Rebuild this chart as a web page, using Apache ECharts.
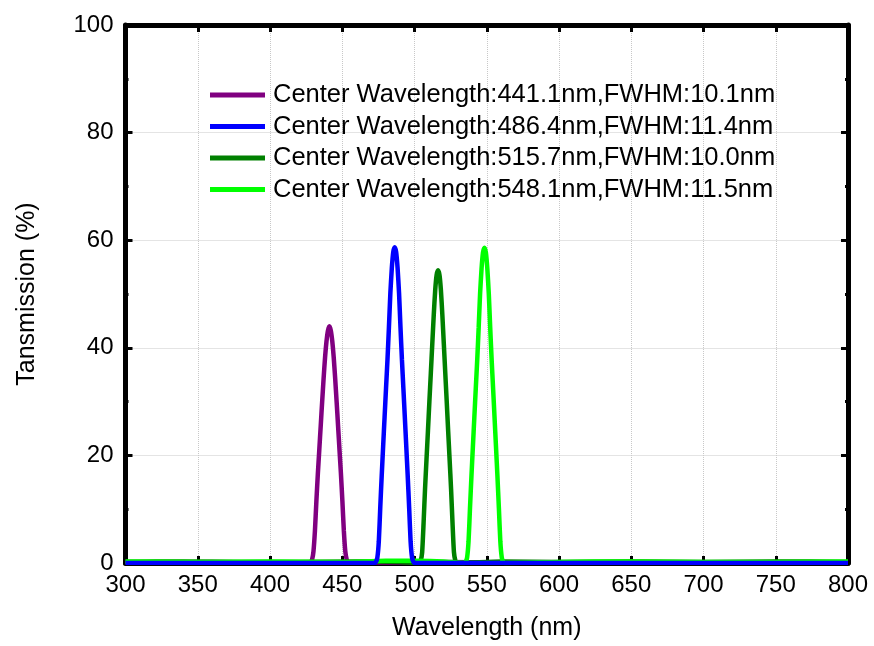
<!DOCTYPE html>
<html>
<head>
<meta charset="utf-8">
<script src="https://cdn.jsdelivr.net/npm/echarts@6/dist/echarts.min.js"></script>
<style>html,body{margin:0;padding:0;background:#fff}#c{width:874px;height:646px}</style>
</head>
<body>
<div id="c"></div>
<script>
// Tick labels / axis ranges
var xTicks = [300, 350, 400, 450, 500, 550, 600, 650, 700, 750, 800];
var yTicks = [0, 20, 40, 60, 80, 100];

var seriesNames = [
  'Center Wavelength:441.1nm,FWHM:10.1nm',
  'Center Wavelength:486.4nm,FWHM:11.4nm',
  'Center Wavelength:515.7nm,FWHM:10.0nm',
  'Center Wavelength:548.1nm,FWHM:11.5nm'
];
var seriesColors = ['#800080', '#0000ff', '#008000', '#00ff00'];

// Purple (441.1 nm)
var purpleWl = [300,330,360,390,420,
  428.1,429.1,430.1,431.1,432.1,433.1,434.1,435.1,436.1,437.1,438.1,439.1,440.1,441.1,
  442.1,443.1,444.1,445.1,446.1,447.1,448.1,449.1,450.1,451.1,452.1,453.1,454.1,
  480,520,560,600,650,700,750,800];
var purpleT = [0.2,0.1,0.2,0.1,0.1,
  0.1,0.6,2.2,6.0,11.5,16.5,21.0,25.5,30.0,34.3,38.2,41.2,43.2,44.0,
  43.2,41.2,38.2,34.3,30.0,25.5,21.0,16.5,11.5,6.0,2.2,0.6,0.1,
  0.1,0.2,0.1,0.1,0.2,0.1,0.1,0.1];

// Blue (486.4 nm)
var blueWl = [300,350,400,450,
  472.3,473.3,474.3,475.3,476.3,477.3,478.3,479.3,480.3,481.3,482.3,483.3,484.3,485.3,486.3,
  487.3,488.3,489.3,490.3,491.3,492.3,493.3,494.3,495.3,496.3,497.3,498.3,499.3,500.3,
  520,600,700,800];
var blueT = [0,0,0,0,
  0.0,0.2,1.0,4.0,10.3,16.2,21.7,27.1,32.5,37.8,43.8,50.2,54.8,57.8,58.7,
  57.8,54.8,50.2,43.8,37.8,32.5,27.1,21.7,16.2,10.3,4.0,1.0,0.2,0.0,
  0,0,0,0];

// Dark green (515.7 nm)
var dgreenWl = [300,340,380,420,460,490,
  503.3,504.3,505.3,506.3,507.3,508.3,509.3,510.3,511.3,512.3,513.3,514.3,515.3,516.3,
  517.3,518.3,519.3,520.3,521.3,522.3,523.3,524.3,525.3,526.3,527.3,528.3,529.3,
  560,600,650,700,750,800];
var dgreenT = [0.2,0.3,0.2,0.2,0.3,0.2,
  0.0,0.4,2.0,7.5,13.8,19.2,24.5,30.0,35.3,40.7,46.0,50.6,53.5,54.4,
  53.5,50.6,46.0,40.7,35.3,30.0,24.5,19.2,13.8,7.5,2.0,0.4,0.0,
  0.3,0.2,0.3,0.2,0.3,0.2];

// Light green (548.1 nm)
var lgreenWl = [300,350,400,450,480,500,520,
  534.4,535.4,536.4,537.4,538.4,539.4,540.4,541.4,542.4,543.4,544.4,545.4,546.4,547.4,548.4,
  549.4,550.4,551.4,552.4,553.4,554.4,555.4,556.4,557.4,558.4,559.4,560.4,561.4,562.4,
  600,650,700,750,800];
var lgreenT = [0.3,0.2,0.3,0.2,0.4,0.4,0.3,
  0.0,0.2,1.0,4.0,10.2,16.1,21.6,27.0,32.4,37.7,43.7,50.1,54.7,57.7,58.6,
  57.7,54.7,50.1,43.7,37.7,32.4,27.0,21.6,16.1,10.2,4.0,1.0,0.2,0.0,
  0.2,0.3,0.2,0.2,0.3];

function pairs(xs, ys) {
  var out = [];
  for (var i = 0; i < xs.length; i++) out.push([xs[i], ys[i]]);
  return out;
}

var allWl = [purpleWl, blueWl, dgreenWl, lgreenWl];
var allT = [purpleT, blueT, dgreenT, lgreenT];
var zOrder = [2, 5, 3, 4];

var FONT = '"Liberation Sans", Arial, sans-serif';

var series = seriesNames.map(function (n, i) {
  return {
    name: n,
    type: 'line',
    data: pairs(allWl[i], allT[i]),
    showSymbol: false,
    smooth: 0.2,
    z: zOrder[i],
    lineStyle: { color: seriesColors[i], width: 4.5 },
    itemStyle: { color: seriesColors[i] },
    animation: false
  };
});

var axisLineStyle = { show: true, onZero: false, lineStyle: { color: '#000', width: 5 } };
var tickStyle = { show: true, inside: true, length: 7, lineStyle: { color: '#000', width: 3 } };
var minorStyle = { show: true, length: 3, splitNumber: 2, lineStyle: { color: '#000', width: 3 } };

var chart = echarts.init(document.getElementById('c'));
chart.setOption({
  backgroundColor: '#fff',
  animation: false,
  grid: { left: 125.5, right: 26, top: 25, bottom: 82, containLabel: false },
  legend: {
    orient: 'vertical',
    left: 205,
    top: 77,
    itemWidth: 55,
    itemHeight: 5,
    itemGap: 5.5,
    icon: 'rect',
    data: seriesNames,
    textStyle: { fontFamily: FONT, fontSize: 25.5, color: '#000', padding: [0, 0, 0, 3] }
  },
  xAxis: [{
    type: 'value',
    min: xTicks[0], max: xTicks[xTicks.length - 1], interval: 50,
    position: 'bottom',
    name: 'Wavelength (nm)',
    nameLocation: 'middle',
    nameGap: 53,
    nameTextStyle: { fontFamily: FONT, fontSize: 25, color: '#000' },
    axisLine: axisLineStyle,
    axisTick: tickStyle,
    minorTick: minorStyle,
    axisLabel: { fontFamily: FONT, fontSize: 24, color: '#000', margin: 10 },
    splitLine: { show: true, lineStyle: { color: '#c8c8c8', width: 1, type: 'dotted' } }
  }, {
    type: 'value',
    min: xTicks[0], max: xTicks[xTicks.length - 1], interval: 50,
    position: 'top',
    axisLine: axisLineStyle,
    axisTick: tickStyle,
    minorTick: minorStyle,
    axisLabel: { show: false },
    splitLine: { show: false }
  }],
  yAxis: [{
    type: 'value',
    min: yTicks[0], max: yTicks[yTicks.length - 1], interval: 20,
    position: 'left',
    name: 'Tansmission (%)',
    nameLocation: 'middle',
    nameGap: 86,
    nameTextStyle: { fontFamily: FONT, fontSize: 25, color: '#000' },
    axisLine: axisLineStyle,
    axisTick: tickStyle,
    minorTick: minorStyle,
    axisLabel: { fontFamily: FONT, fontSize: 24, color: '#000', margin: 12 },
    splitLine: { show: true, lineStyle: { color: '#c8c8c8', width: 1, type: 'dotted' } }
  }, {
    type: 'value',
    min: yTicks[0], max: yTicks[yTicks.length - 1], interval: 20,
    position: 'right',
    axisLine: axisLineStyle,
    axisTick: tickStyle,
    minorTick: minorStyle,
    axisLabel: { show: false },
    splitLine: { show: false }
  }],
  series: series
});
</script>
</body>
</html>
